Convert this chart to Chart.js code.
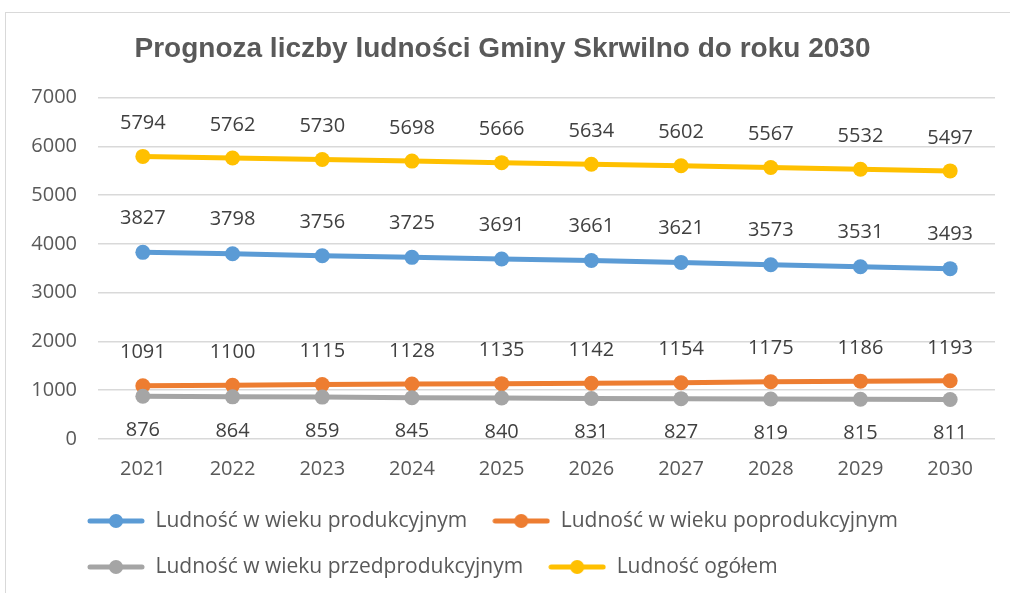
<!DOCTYPE html>
<html>
<head>
<meta charset="utf-8">
<script src="https://cdn.jsdelivr.net/npm/chart.js@4"></script>
<style>
  html, body { margin: 0; padding: 0; background: #fff; overflow: hidden; }
  #frame { position: absolute; left: 5px; top: 12px; width: 1010px; height: 600px; border: 1px solid #d9d9d9; }
  #chart { position: absolute; left: 0; top: 0; }
</style>
</head>
<body>
<div id="frame"></div>
<canvas id="chart" width="1010" height="593"></canvas>
<script>
const years = ["2021", "2022", "2023", "2024", "2025", "2026", "2027", "2028", "2029", "2030"];
const produkcyjny = [3827, 3798, 3756, 3725, 3691, 3661, 3621, 3573, 3531, 3493];
const poprodukcyjny = [1091, 1100, 1115, 1128, 1135, 1142, 1154, 1175, 1186, 1193];
const przedprodukcyjny = [876, 864, 859, 845, 840, 831, 827, 819, 815, 811];
const ogolem = [5794, 5762, 5730, 5698, 5666, 5634, 5602, 5567, 5532, 5497];
const yTicks = [0, 1000, 2000, 3000, 4000, 5000, 6000, 7000];

const FONT = "'Open Sans', sans-serif";
const TEXT = "#595959";
const LEGEND_PAD = 25;
const LEGEND_FONT = 21;

// legend marker: line with a dot, like excel
function legendIcon(color) {
  const c = document.createElement("canvas");
  c.width = 58;
  c.height = 16;
  const g = c.getContext("2d");
  g.strokeStyle = color;
  g.lineWidth = 5;
  g.lineCap = "round";
  g.beginPath();
  g.moveTo(3, 8);
  g.lineTo(55, 8);
  g.stroke();
  g.fillStyle = color;
  g.beginPath();
  g.arc(29, 8, 7, 0, Math.PI * 2);
  g.fill();
  return c;
}

function series(label, data, color, order, labelOffset) {
  return {
    label,
    data,
    borderColor: color,
    backgroundColor: color,
    borderWidth: 5,
    pointRadius: 7.5,
    pointHoverRadius: 7.5,
    pointBorderWidth: 0,
    tension: 0,
    order,
    labelOffset,
    legendIcon: legendIcon(color),
  };
}

const valueLabels = {
  id: "valueLabels",
  afterDatasetsDraw(chart) {
    const ctx = chart.ctx;
    ctx.save();
    ctx.font = "20px " + FONT;
    ctx.fillStyle = "#404040";
    ctx.textAlign = "center";
    ctx.textBaseline = "middle";
    chart.data.datasets.forEach((ds, i) => {
      const meta = chart.getDatasetMeta(i);
      meta.data.forEach((pt, j) => {
        ctx.fillText(String(ds.data[j]), pt.x, pt.y + ds.labelOffset);
      });
    });
    ctx.restore();
  },
};

// place the legend like excel does: a bit in from the left, rows at fixed height
const legendShift = {
  id: "legendShift",
  beforeDraw(chart) {
    chart.legend.left = 62;
    chart.legend.top = 521 - LEGEND_PAD - LEGEND_FONT / 2;
  },
};

new Chart(document.getElementById("chart"), {
  type: "line",
  data: {
    labels: years,
    datasets: [
      series("Ludność w wieku produkcyjnym", produkcyjny, "#5B9BD5", 3, -34),
      series("Ludność w wieku poprodukcyjnym", poprodukcyjny, "#ED7D31", 2, -33),
      series("Ludność w wieku przedprodukcyjnym", przedprodukcyjny, "#A5A5A5", 1, 34),
      series("Ludność ogółem", ogolem, "#FFC000", 0, -33),
    ],
  },
  options: {
    responsive: false,
    animation: false,
    layout: { padding: { top: 20, left: 10, right: 15, bottom: 4 } },
    plugins: {
      title: {
        display: true,
        text: "Prognoza liczby ludności Gminy Skrwilno do roku 2030",
        color: TEXT,
        font: { family: "'Liberation Sans', Arial, sans-serif", size: 28, weight: "bold" },
        padding: { top: 12, bottom: 32 },
      },
      legend: {
        position: "bottom",
        align: "start",
        labels: {
          usePointStyle: true,
          pointStyleWidth: 58,
          boxHeight: 16,
          padding: LEGEND_PAD,
          color: TEXT,
          font: { family: FONT, size: LEGEND_FONT },
          sort: (a, b) => a.datasetIndex - b.datasetIndex,
          generateLabels(chart) {
            const items = Chart.defaults.plugins.legend.labels.generateLabels(chart);
            items.forEach((it) => {
              it.pointStyle = chart.data.datasets[it.datasetIndex].legendIcon;
            });
            return items;
          },
        },
      },
      tooltip: { enabled: false },
    },
    scales: {
      x: {
        offset: true,
        afterFit: (scale) => { scale.height = 48; },
        grid: { display: false, drawTicks: false },
        border: { display: false },
        ticks: { color: TEXT, font: { family: FONT, size: 20 }, padding: 18 },
      },
      y: {
        min: 0,
        max: 7000,
        afterBuildTicks: (scale) => { scale.ticks = yTicks.map((v) => ({ value: v })); },
        afterFit: (scale) => { scale.width = 88; },
        grid: { color: "#d9d9d9", lineWidth: 1.5, drawTicks: false },
        border: { display: false },
        ticks: { color: TEXT, font: { family: FONT, size: 20 }, padding: 21, callback: (v) => String(v) },
      },
    },
  },
  plugins: [valueLabels, legendShift],
});
</script>
</body>
</html>
